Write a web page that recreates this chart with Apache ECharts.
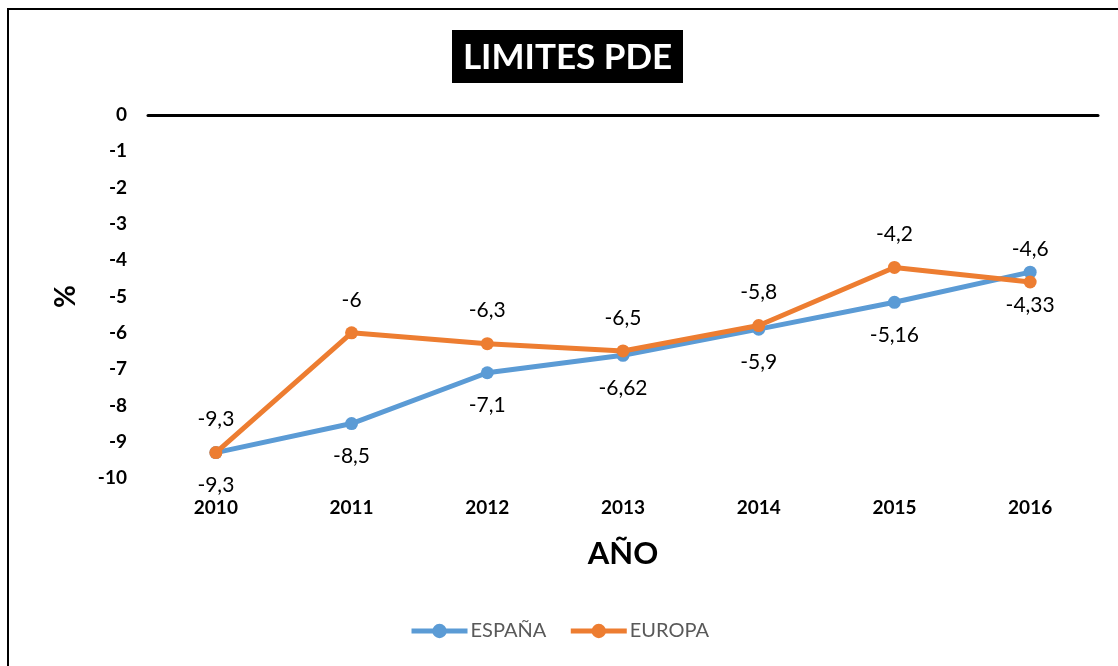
<!DOCTYPE html>
<html>
<head>
<meta charset="utf-8">
<script src="https://cdn.jsdelivr.net/npm/echarts@6/dist/echarts.min.js"></script>
<style>
    html, body { margin: 0; padding: 0; background: #fff; }
    #chart { width: 1118px; height: 666px; }
</style>
</head>
<body>
<div id="chart"></div>
<script>
// 数据
const years = ['2010', '2011', '2012', '2013', '2014', '2015', '2016'];
const espana = [-9.3, -8.5, -7.1, -6.62, -5.9, -5.16, -4.33];
const europa = [-9.3, -6, -6.3, -6.5, -5.8, -4.2, -4.6];

const FONT = 'Lato, "Open Sans", sans-serif';
const fmt = p => String(p.value).replace('.', ',');

const myChart = echarts.init(document.getElementById('chart'));

const option = {
    backgroundColor: '#fff',
    animation: false,
    textStyle: { fontFamily: FONT },
    graphic: [
        // 外框
        {
            type: 'rect',
            shape: { x: 8, y: 9, width: 1200, height: 800 },
            style: { fill: 'none', stroke: '#000', lineWidth: 2 },
            silent: true
        },
        // 标题
        {
            type: 'rect',
            shape: { x: 452, y: 30, width: 231, height: 53 },
            style: { fill: '#000' },
            silent: true
        },
        {
            type: 'text',
            x: 567.5,
            y: 58,
            style: {
                text: 'LIMITES PDE',
                fill: '#fff',
                font: 'bold 35px ' + FONT,
                align: 'center',
                verticalAlign: 'middle'
            },
            silent: true
        }
    ],
    grid: { left: 148, right: 20, top: 115, bottom: 188 },
    legend: {
        bottom: 20,
        left: 'center',
        itemWidth: 56,
        itemHeight: 18,
        itemGap: 22,
        lineStyle: { width: 5 },
        textStyle: { fontSize: 20, color: '#595959', fontFamily: FONT, padding: [0, 0, 0, -2] },
        data: ['ESPAÑA', 'EUROPA']
    },
    xAxis: [{
        type: 'category',
        data: years,
        position: 'bottom',
        boundaryGap: true,
        axisLine: { show: false },
        axisTick: { show: false },
        axisLabel: { fontSize: 19, fontWeight: 'bold', color: '#000', margin: 20, fontFamily: FONT },
        name: 'AÑO',
        nameLocation: 'middle',
        nameGap: 60,
        nameTextStyle: { fontSize: 31, fontWeight: 'bold', color: '#000', fontFamily: FONT }
    }, {
        // 零线
        type: 'category',
        data: years,
        position: 'top',
        axisLine: { show: true, lineStyle: { color: '#000', width: 3 } },
        axisTick: { show: false },
        axisLabel: { show: false }
    }],
    yAxis: {
        type: 'value',
        min: -10,
        max: 0,
        interval: 1,
        axisLine: { show: false },
        axisTick: { show: false },
        splitLine: { show: false },
        axisLabel: { fontSize: 19, fontWeight: 'bold', color: '#000', margin: 21, fontFamily: FONT },
        name: '%',
        nameLocation: 'middle',
        nameGap: 68,
        nameRotate: 90,
        nameTextStyle: { fontSize: 28, fontWeight: 'bold', color: '#000', fontFamily: FONT }
    },
    series: [{
        name: 'ESPAÑA',
        type: 'line',
        data: espana,
        symbol: 'circle',
        symbolSize: 13,
        lineStyle: { width: 5, color: '#5B9BD5' },
        itemStyle: { color: '#5B9BD5' },
        label: {
            show: true,
            position: 'bottom',
            distance: 16,
            fontSize: 21,
            color: '#000',
            fontFamily: FONT,
            formatter: fmt
        },
        z: 2
    }, {
        name: 'EUROPA',
        type: 'line',
        data: europa,
        symbol: 'circle',
        symbolSize: 13,
        lineStyle: { width: 5, color: '#ED7D31' },
        itemStyle: { color: '#ED7D31' },
        label: {
            show: true,
            position: 'top',
            distance: 16,
            fontSize: 21,
            color: '#000',
            fontFamily: FONT,
            formatter: fmt
        },
        z: 3
    }]
};

myChart.setOption(option);
</script>
</body>
</html>
